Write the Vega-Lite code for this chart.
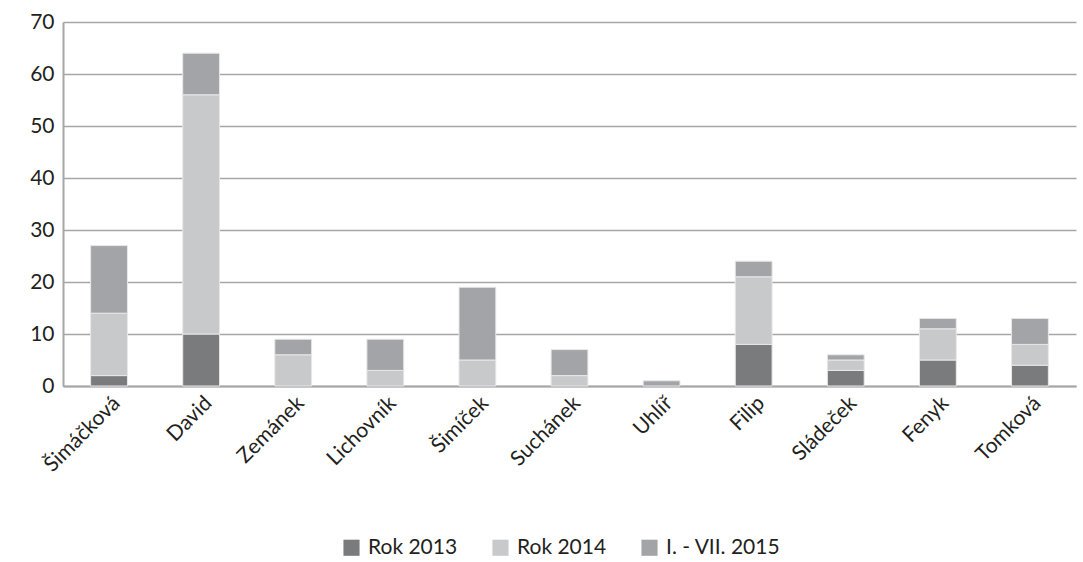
{
  "$schema": "https://vega.github.io/schema/vega-lite/v6.json",
  "width": 1013,
  "height": 364,
  "autosize": {"type": "none"},
  "padding": {"left": 63, "top": 22, "right": 7, "bottom": 176},
  "background": "white",
  "config": {
    "font": "Lato",
    "view": {"stroke": null}
  },
  "data": {
    "values": [
      {"name": "Šimáčková", "series": "Rok 2013", "k": 1, "value": 2},
      {"name": "Šimáčková", "series": "Rok 2014", "k": 2, "value": 12},
      {"name": "Šimáčková", "series": "I. - VII. 2015", "k": 3, "value": 13},
      {"name": "David", "series": "Rok 2013", "k": 1, "value": 10},
      {"name": "David", "series": "Rok 2014", "k": 2, "value": 46},
      {"name": "David", "series": "I. - VII. 2015", "k": 3, "value": 8},
      {"name": "Zemánek", "series": "Rok 2013", "k": 1, "value": 0},
      {"name": "Zemánek", "series": "Rok 2014", "k": 2, "value": 6},
      {"name": "Zemánek", "series": "I. - VII. 2015", "k": 3, "value": 3},
      {"name": "Lichovník", "series": "Rok 2013", "k": 1, "value": 0},
      {"name": "Lichovník", "series": "Rok 2014", "k": 2, "value": 3},
      {"name": "Lichovník", "series": "I. - VII. 2015", "k": 3, "value": 6},
      {"name": "Šimíček", "series": "Rok 2013", "k": 1, "value": 0},
      {"name": "Šimíček", "series": "Rok 2014", "k": 2, "value": 5},
      {"name": "Šimíček", "series": "I. - VII. 2015", "k": 3, "value": 14},
      {"name": "Suchánek", "series": "Rok 2013", "k": 1, "value": 0},
      {"name": "Suchánek", "series": "Rok 2014", "k": 2, "value": 2},
      {"name": "Suchánek", "series": "I. - VII. 2015", "k": 3, "value": 5},
      {"name": "Uhlíř", "series": "Rok 2013", "k": 1, "value": 0},
      {"name": "Uhlíř", "series": "Rok 2014", "k": 2, "value": 0},
      {"name": "Uhlíř", "series": "I. - VII. 2015", "k": 3, "value": 1},
      {"name": "Filip", "series": "Rok 2013", "k": 1, "value": 8},
      {"name": "Filip", "series": "Rok 2014", "k": 2, "value": 13},
      {"name": "Filip", "series": "I. - VII. 2015", "k": 3, "value": 3},
      {"name": "Sládeček", "series": "Rok 2013", "k": 1, "value": 3},
      {"name": "Sládeček", "series": "Rok 2014", "k": 2, "value": 2},
      {"name": "Sládeček", "series": "I. - VII. 2015", "k": 3, "value": 1},
      {"name": "Fenyk", "series": "Rok 2013", "k": 1, "value": 5},
      {"name": "Fenyk", "series": "Rok 2014", "k": 2, "value": 6},
      {"name": "Fenyk", "series": "I. - VII. 2015", "k": 3, "value": 2},
      {"name": "Tomková", "series": "Rok 2013", "k": 1, "value": 4},
      {"name": "Tomková", "series": "Rok 2014", "k": 2, "value": 4},
      {"name": "Tomková", "series": "I. - VII. 2015", "k": 3, "value": 5}
    ]
  },
  "transform": [{"filter": "datum.value > 0"}],
  "mark": {"type": "bar", "stroke": "#e8e8ea", "strokeWidth": 1},
  "encoding": {
    "x": {
      "field": "name",
      "type": "nominal",
      "sort": null,
      "scale": {"paddingInner": 0.6, "paddingOuter": 0.3},
      "axis": {
        "title": null,
        "labelAngle": -45,
        "labelFontSize": 21,
        "labelColor": "#231f20",
        "ticks": false,
        "domainColor": "#a6a6a8",
        "domainWidth": 2,
        "labelPadding": 6
      }
    },
    "y": {
      "field": "value",
      "type": "quantitative",
      "stack": "zero",
      "scale": {"domain": [0, 70]},
      "axis": {
        "title": null,
        "values": [0, 10, 20, 30, 40, 50, 60, 70],
        "labelFontSize": 21,
        "labelColor": "#231f20",
        "ticks": false,
        "labelPadding": 9,
        "domainColor": "#a6a6a8",
        "domainWidth": 2,
        "gridColor": "#a6a6a8",
        "gridWidth": 1.5
      }
    },
    "color": {
      "field": "series",
      "type": "nominal",
      "scale": {
        "domain": ["Rok 2013", "Rok 2014", "I. - VII. 2015"],
        "range": ["#7a7b7d", "#c8c9cb", "#a3a4a7"]
      },
      "legend": {
        "title": null,
        "orient": "none",
        "legendX": 278,
        "legendY": 515,
        "direction": "horizontal",
        "symbolType": "square",
        "symbolSize": 260,
        "symbolStrokeWidth": 0,
        "labelFontSize": 21,
        "labelColor": "#231f20",
        "labelOffset": 6,
        "columnPadding": 32
      }
    },
    "order": {"field": "k", "type": "quantitative"}
  }
}
